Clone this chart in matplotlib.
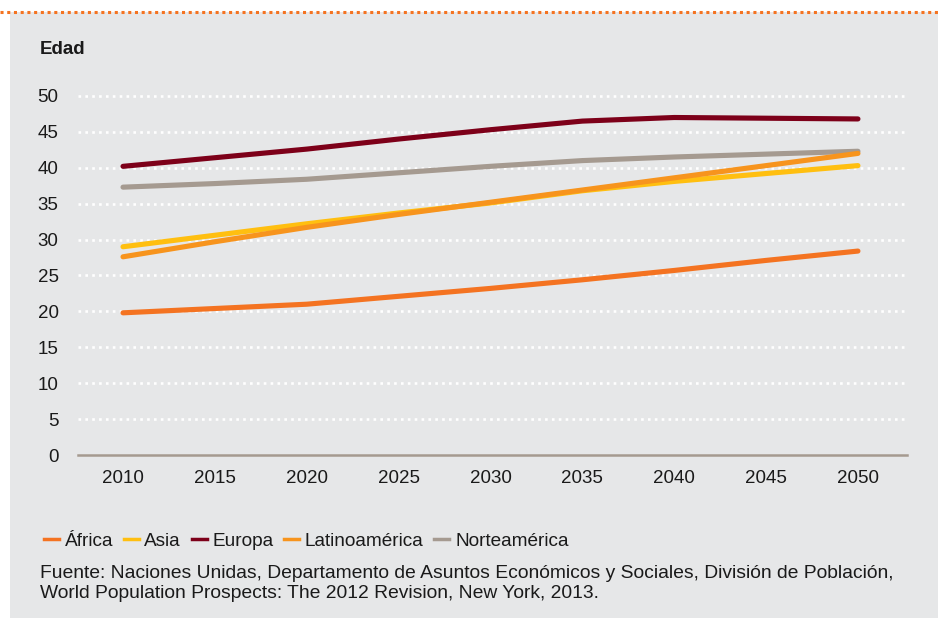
import matplotlib.pyplot as plt
from matplotlib.patches import Rectangle
from matplotlib.lines import Line2D

plt.rcParams['font.family'] = ['Liberation Sans', 'DejaVu Sans']

years = [2010, 2015, 2020, 2025, 2030, 2035, 2040, 2045, 2050]
africa = [19.8, 20.4, 21.0, 22.1, 23.2, 24.4, 25.7, 27.1, 28.4]
asia = [29.0, 30.6, 32.2, 33.7, 35.1, 36.8, 38.1, 39.2, 40.3]
europa = [40.2, 41.4, 42.6, 44.0, 45.3, 46.5, 47.0, 46.9, 46.8]
latam = [27.6, 29.7, 31.7, 33.5, 35.2, 36.9, 38.6, 40.3, 42.0]
norteam = [37.3, 37.8, 38.4, 39.3, 40.2, 41.0, 41.5, 41.9, 42.3]

names = ["África", "Asia", "Europa", "Latinoamérica", "Norteamérica"]
colors = ["#f47321", "#ffbf10", "#7d0019", "#f7941d", "#a59a90"]
yticks = [0, 5, 10, 15, 20, 25, 30, 35, 40, 45, 50]

W, H = 946, 618
fig = plt.figure(figsize=(W / 100, H / 100), dpi=100, facecolor="white")

# gray panel + dotted orange top rule
fig.patches.append(Rectangle((10 / W, 0), 928 / W, (H - 12) / H,
                             transform=fig.transFigure, facecolor="#e6e7e8",
                             edgecolor="none", zorder=-10))
fig.lines.append(Line2D([0, 938 / W], [1 - 12 / H, 1 - 12 / H],
                        transform=fig.transFigure, color="#f47321",
                        linestyle=(0, (1, 1.2)), linewidth=2.2, zorder=-5))

ax = fig.add_axes([78 / W, 1 - 455 / H, (907 - 78) / W, (455 - 81.6) / H])
ax.set_facecolor("none")

series = [africa, asia, europa, latam, norteam]
# draw order: keep latam over asia as in the picture
order = [4, 2, 1, 3, 0]
for i in order:
    ax.plot(years, series[i], color=colors[i], linewidth=3.7,
            solid_capstyle="round", label=names[i], zorder=3)

ax.set_xlim(2007.55, 2052.67)
ax.set_ylim(0, 52)
ax.set_xticks(years)
ax.set_yticks(yticks)
for y in yticks[1:]:
    ax.axhline(y, color="white", linestyle=(0, (1, 1.6)), linewidth=1.9, zorder=1)

for s in ["top", "right", "left"]:
    ax.spines[s].set_visible(False)
ax.spines["bottom"].set_color("#a59a90")
ax.spines["bottom"].set_linewidth(1.8)
ax.tick_params(length=0, labelsize=13.5, colors="#1a1a1a", pad=11)
ax.tick_params(axis="y", pad=14)

fig.text(40 / W, 1 - 50 / H, "Edad", fontsize=13.5, fontweight="bold",
         va="center", ha="left", color="#1a1a1a")

handles = [Line2D([0], [0], color=colors[i], linewidth=2.5) for i in range(5)]
fig.legend(handles, names, loc="center left", bbox_to_anchor=(36 / W, 1 - 541 / H),
           ncol=5, frameon=False, fontsize=13.7, handlelength=0.8,
           handletextpad=0.3, columnspacing=0.55, borderaxespad=0,
           labelcolor="#1a1a1a")

fig.text(40 / W, 1 - 573 / H,
         "Fuente: Naciones Unidas, Departamento de Asuntos Económicos y Sociales, División de Población,",
         fontsize=13.9, va="center", ha="left", color="#1a1a1a")
fig.text(40 / W, 1 - 594 / H,
         "World Population Prospects: The 2012 Revision, New York, 2013.",
         fontsize=13.9, va="center", ha="left", color="#1a1a1a")

fig.savefig("out.png", dpi=100, facecolor="white")
